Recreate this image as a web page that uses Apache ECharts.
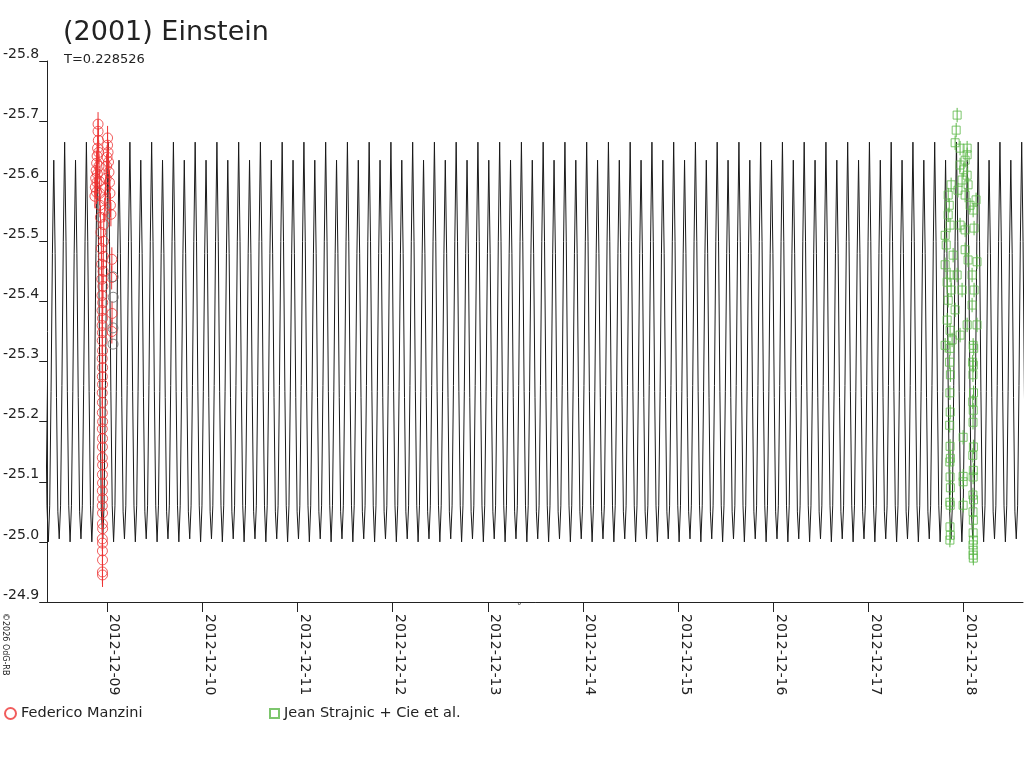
<!DOCTYPE html>
<html>
<head>
    <meta charset="utf-8"/>
    <title>(2001) Einstein</title>
    <script src="https://cdn.jsdelivr.net/npm/echarts@6/dist/echarts.min.js"></script>
    <style>
        html, body { margin: 0; padding: 0; background: #fff; }
        #main { width: 1024px; height: 768px; }
    </style>
</head>
<body>
<div id="main"></div>
<script>
    // x values are days of December 2012
    var xMin = 8.371;
    var xMax = 18.623;
    var dayTicks = [9, 10, 11, 12, 13, 14, 15, 16, 17, 18];
    var magTicks = [-25.8, -25.7, -25.6, -25.5, -25.4, -25.3, -25.2, -25.1, -25.0, -24.9];

    // model lightcurve: period and one cycle of its shape (starting at the taller maximum)
    var period = 0.228526;
    var tallPeak = 11.982;
    var cycleMag = [-25.665, -25.50, -25.25, -25.06, -25.00, -25.06, -25.25, -25.48,
                    -25.635, -25.48, -25.24, -25.05, -25.005, -25.06, -25.26, -25.50];

    // Federico Manzini observations [day, mag]
    var manzini = [
        [8.905, -25.695], [8.905, -25.683], [8.908, -25.668], [8.900, -25.655], [8.895, -25.642],
        [8.890, -25.630], [8.885, -25.618], [8.880, -25.605], [8.876, -25.590], [8.872, -25.575],
        [8.912, -25.648], [8.915, -25.625], [8.898, -25.612], [8.893, -25.598], [8.888, -25.582],
        [8.918, -25.600], [8.922, -25.580], [8.925, -25.560],
        [9.005, -25.672], [9.005, -25.660], [9.010, -25.648], [9.000, -25.640], [9.015, -25.632],
        [8.995, -25.625], [9.020, -25.615], [8.990, -25.605], [9.025, -25.598], [8.985, -25.588],
        [9.030, -25.580], [8.980, -25.570], [9.035, -25.560], [9.040, -25.545], [8.975, -25.552],
        [8.930, -25.540], [8.965, -25.528], [8.935, -25.515], [8.962, -25.500], [8.940, -25.488],
        [8.960, -25.475], [9.050, -25.470], [8.942, -25.462], [8.958, -25.450], [8.944, -25.437],
        [9.048, -25.440], [8.956, -25.425], [8.946, -25.410], [8.954, -25.398], [8.947, -25.385],
        [9.052, -25.380], [8.952, -25.372], [8.948, -25.360], [8.951, -25.348], [9.050, -25.350],
        [8.949, -25.335], [8.952, -25.318], [8.949, -25.305], [8.953, -25.290], [8.950, -25.275],
        [8.952, -25.262], [8.949, -25.248], [8.951, -25.232], [8.950, -25.215], [8.953, -25.200],
        [8.950, -25.188], [8.952, -25.172], [8.951, -25.158], [8.950, -25.140], [8.953, -25.128],
        [8.951, -25.112], [8.952, -25.098], [8.950, -25.085], [8.953, -25.072], [8.950, -25.060],
        [8.952, -25.048], [8.951, -25.030], [8.953, -25.022], [8.950, -25.005], [8.952, -24.998],
        [8.951, -24.985], [8.952, -24.970], [8.951, -24.950], [8.952, -24.945]
    ];
    // points of the same night drawn in dark grey
    var manziniGrey = [[9.063, -25.441], [9.064, -25.407], [9.061, -25.356], [9.062, -25.329]];

    // Jean Strajnic + Cie et al. observations [day, mag]
    var strajnic = [
        [17.931, -25.710], [17.921, -25.685], [17.910, -25.664], [17.962, -25.655], [18.036, -25.655],
        [18.036, -25.644], [18.015, -25.635], [17.962, -25.627], [18.000, -25.619], [18.036, -25.610],
        [17.983, -25.602], [18.046, -25.594], [17.940, -25.585], [17.868, -25.594], [17.837, -25.577],
        [17.848, -25.560], [18.015, -25.577], [18.067, -25.560], [18.130, -25.569], [18.099, -25.552],
        [17.837, -25.544], [17.857, -25.527], [17.805, -25.510], [17.962, -25.527], [18.015, -25.519],
        [18.109, -25.522], [17.816, -25.494], [17.889, -25.477], [18.015, -25.486], [18.046, -25.469],
        [18.140, -25.466], [17.805, -25.461], [17.857, -25.444], [17.826, -25.432], [17.931, -25.444],
        [18.088, -25.444], [17.868, -25.419], [17.983, -25.419], [18.109, -25.419], [17.837, -25.402],
        [17.910, -25.386], [18.088, -25.394], [17.826, -25.369], [17.857, -25.352], [18.036, -25.361],
        [18.140, -25.361], [17.805, -25.327], [17.878, -25.336], [17.962, -25.344],
        [17.857, -25.322], [17.852, -25.299], [17.860, -25.278], [17.855, -25.248], [17.858, -25.216],
        [17.853, -25.194], [17.857, -25.159], [17.860, -25.139], [17.854, -25.133], [17.857, -25.108],
        [17.860, -25.090], [17.855, -25.066], [17.858, -25.061], [17.856, -25.025], [17.859, -25.011],
        [17.855, -25.003],
        [18.099, -25.327], [18.105, -25.322], [18.094, -25.299], [18.101, -25.294], [18.097, -25.278],
        [18.103, -25.248], [18.095, -25.233], [18.100, -25.219], [18.098, -25.199], [18.102, -25.158],
        [18.096, -25.144], [18.101, -25.119], [18.099, -25.108], [18.097, -25.078], [18.103, -25.070],
        [18.098, -25.050], [18.101, -25.036], [18.099, -25.015], [18.102, -25.003], [18.098, -24.995],
        [18.100, -24.986], [18.099, -24.978], [18.101, -24.973],
        [17.994, -25.174], [17.994, -25.109], [17.994, -25.100], [17.994, -25.061]
    ];
    var manziniErr = 0.02;
    var strajnicErr = 0.012;

    var RED = '#ee3333';
    var GREEN = '#5cb848';
    var INK = '#222222';
    var FONT = 'DejaVu Sans';

    // model curve, one read cycle repeated every period across the axis range
    var model = [];
    var kFrom = Math.floor((xMin - tallPeak) / period) - 1;
    var kTo = Math.ceil((xMax - tallPeak) / period) + 1;
    for (var k = kFrom; k <= kTo; k++) {
        for (var j = 0; j < cycleMag.length; j++) {
            model.push([tallPeak + (k + j / cycleMag.length) * period, cycleMag[j]]);
        }
    }

    function errorBars(points, err, color) {
        return {
            type: 'custom',
            silent: true,
            z: 3,
            data: points.map(function (p) { return [p[0], p[1], err]; }),
            encode: {x: 0, y: 1},
            renderItem: function (params, api) {
                var a = api.coord([api.value(0), api.value(1) - api.value(2)]);
                var b = api.coord([api.value(0), api.value(1) + api.value(2)]);
                return {
                    type: 'line',
                    shape: {x1: a[0], y1: a[1], x2: b[0], y2: b[1]},
                    style: {stroke: color, lineWidth: 1}
                };
            }
        };
    }

    function pad(d) { return d < 10 ? '0' + d : '' + d; }

    var chart = echarts.init(document.getElementById('main'));
    chart.setOption({
        animation: false,
        backgroundColor: '#fff',
        title: [{
            text: '(2001) Einstein',
            left: 63,
            top: 19,
            padding: 0,
            textStyle: {fontFamily: FONT, fontSize: 27, fontWeight: 'normal', color: INK}
        }, {
            text: 'T=0.228526',
            left: 64,
            top: 53,
            padding: 0,
            textStyle: {fontFamily: FONT, fontSize: 13, fontWeight: 'normal', color: INK}
        }],
        legend: [{
            data: ['Federico Manzini'],
            left: 4,
            top: 706,
            padding: 0,
            itemWidth: 11,
            itemHeight: 11,
            textStyle: {fontFamily: FONT, fontSize: 14.5, color: INK}
        }, {
            data: ['Jean Strajnic + Cie et al.'],
            left: 269,
            top: 706,
            padding: 0,
            itemWidth: 9,
            itemHeight: 9,
            textStyle: {fontFamily: FONT, fontSize: 14.5, color: INK}
        }],
        grid: {left: 45, right: 1, top: 61, bottom: 166, containLabel: false},
        xAxis: {
            type: 'value',
            min: xMin,
            max: xMax,
            splitLine: {show: false},
            axisLine: {lineStyle: {color: INK}},
            axisTick: {length: 10, customValues: dayTicks, lineStyle: {color: INK}},
            axisLabel: {
                customValues: dayTicks,
                rotate: -90,
                margin: 12,
                verticalAlign: 'bottom',
                fontFamily: FONT,
                fontSize: 14,
                color: INK,
                formatter: function (v) { return '2012-12-' + pad(Math.round(v)); }
            }
        },
        yAxis: {
            type: 'value',
            inverse: true,
            min: magTicks[0],
            max: magTicks[magTicks.length - 1],
            interval: 0.1,
            splitLine: {show: false},
            axisLine: {show: true, lineStyle: {color: INK}},
            axisTick: {show: true, length: 8, lineStyle: {color: INK}},
            axisLabel: {
                margin: 8,
                verticalAlign: 'bottom',
                fontFamily: FONT,
                fontSize: 14,
                color: INK,
                formatter: function (v) { return v.toFixed(1); }
            }
        },
        series: [{
            name: 'model',
            type: 'line',
            data: model,
            showSymbol: false,
            silent: true,
            z: 2,
            lineStyle: {color: '#1a1a1a', width: 1}
        },
            errorBars(manzini, manziniErr, RED),
            errorBars(strajnic, strajnicErr, GREEN),
            {
                name: 'Federico Manzini',
                type: 'scatter',
                data: manzini,
                symbol: 'circle',
                symbolSize: 10,
                z: 4,
                itemStyle: {color: 'rgba(255,255,255,0)', borderColor: RED, borderWidth: 1}
            }, {
                name: 'grey',
                type: 'scatter',
                data: manziniGrey,
                symbol: 'circle',
                symbolSize: 10,
                z: 4,
                itemStyle: {color: 'rgba(255,255,255,0)', borderColor: '#666', borderWidth: 1}
            }, {
                name: 'Jean Strajnic + Cie et al.',
                type: 'scatter',
                data: strajnic,
                symbol: 'rect',
                symbolSize: 8,
                z: 4,
                itemStyle: {color: 'rgba(255,255,255,0)', borderColor: GREEN, borderWidth: 1}
            }],
        graphic: [{
            type: 'text',
            x: 1,
            y: 613,
            rotation: -Math.PI / 2,
            style: {text: '\u00a92026 OdG-RB', fontSize: 8, fontFamily: FONT, fill: INK, align: 'left', verticalAlign: 'bottom'}
        }, {
            type: 'text',
            x: 517,
            y: 602,
            style: {text: '\u00b0', fontSize: 9, fontFamily: FONT, fill: INK}
        }]
    });
    window.onresize = function () {
        chart.resize();
    };
</script>
</body>
</html>
